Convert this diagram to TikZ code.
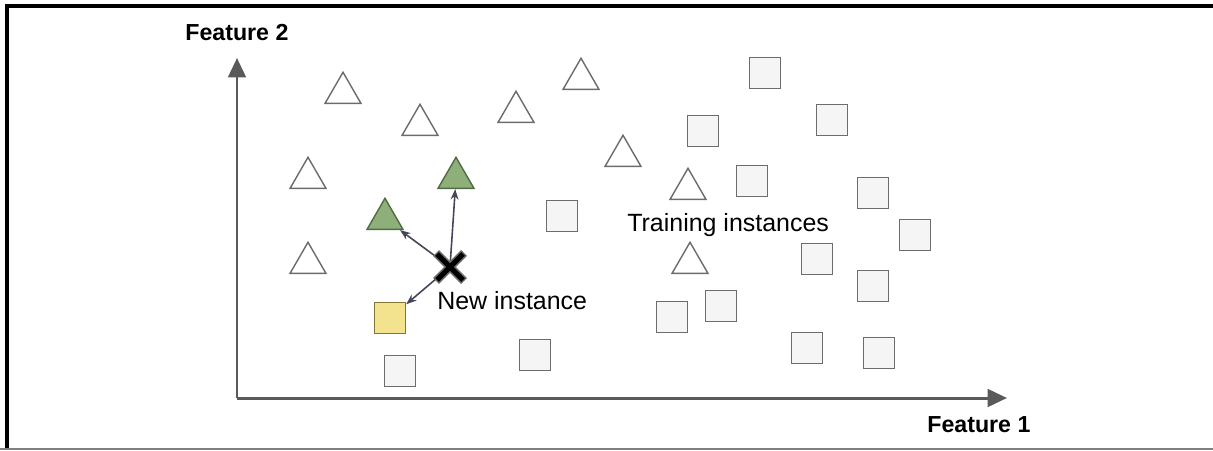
\documentclass[tikz,border=0pt]{standalone}
\usepackage{fontspec}
\setmainfont{Liberation Sans}
\usetikzlibrary{shapes.geometric,arrows.meta}

\definecolor{outlinegray}{HTML}{6C6C6C}
\definecolor{axisgray}{HTML}{5A5A5A}
\definecolor{boxfill}{HTML}{F5F5F5}
\definecolor{leafgreen}{HTML}{8FAF7A}
\definecolor{darkgreen}{HTML}{4F6C42}
\definecolor{paleyellow}{HTML}{F4E38E}
\definecolor{darkyellow}{HTML}{857535}
\definecolor{linkgray}{HTML}{45455A}

\begin{document}
\begin{tikzpicture}[
    x=0.02cm, y=-0.02cm,
    tri/.style={regular polygon, regular polygon sides=3, draw=outlinegray,
        line width=0.8pt, fill=white, minimum size=0.83cm, inner sep=0pt},
    greentri/.style={tri, draw=darkgreen, fill=leafgreen},
    sq/.style={rectangle, draw=outlinegray, line width=0.8pt, fill=boxfill,
        minimum size=0.62cm, inner sep=0pt},
    yellowsq/.style={sq, draw=darkyellow, fill=paleyellow},
    lbl/.style={font=\fontsize{14.2}{17}\selectfont, inner sep=0pt, anchor=base west},
    axlbl/.style={font=\fontsize{13.2}{16}\selectfont\bfseries, inner sep=0pt, anchor=base west},
    axis/.style={draw=axisgray, line width=1.7pt, -{Triangle[length=11pt,width=10pt]}},
    link/.style={draw=linkgray, line width=0.9pt, -{Stealth[length=6pt,width=4.5pt]}}
]
    \useasboundingbox (0,0) rectangle (1213,450);
    % frame
    \draw[line width=2.3pt] (5,6) -- (1213,6);
    \draw[line width=2.3pt] (7,4) -- (7,448);
    \draw[gray, line width=1.2pt] (0,449) -- (1213,449);

    % axes
    \coordinate (origin) at (237,398);
    \coordinate (ytip) at (237,58);
    \coordinate (xtip) at (1007,398);
    \draw[axis] (origin) -- (ytip);
    \draw[axis] (origin) -- (xtip);
    \node[axlbl] (ylabel) at (185,40) {Feature 2};
    \node[axlbl] (xlabel) at (927,432) {Feature 1};

    % triangles
    \node[tri] (t1) at (343,93) {};
    \node[tri] (t2) at (420,125) {};
    \node[tri] (t3) at (516,112) {};
    \node[tri] (t4) at (581,79) {};
    \node[tri] (t5) at (308,178) {};
    \node[tri] (t6) at (623,156) {};
    \node[tri] (t7) at (308,263) {};
    \node[tri] (t8) at (688,189) {};
    \node[tri] (t9) at (690,263) {};
    \node[greentri] (g1) at (385,219) {};
    \node[greentri] (g2) at (456,178) {};

    % squares
    \node[sq] (s1) at (765,73) {};
    \node[sq] (s2) at (832,120) {};
    \node[sq] (s3) at (703,131) {};
    \node[sq] (s4) at (752,181) {};
    \node[sq] (s5) at (873,193) {};
    \node[sq] (s6) at (915,235) {};
    \node[sq] (s7) at (562,216) {};
    \node[sq] (s8) at (817,259) {};
    \node[sq] (s9) at (873,286) {};
    \node[sq] (s10) at (721,306) {};
    \node[sq] (s11) at (672,317) {};
    \node[sq] (s12) at (535,355) {};
    \node[sq] (s13) at (807,348) {};
    \node[sq] (s14) at (879,353) {};
    \node[sq] (s15) at (400,371) {};
    \node[yellowsq] (y1) at (390,318) {};

    \node[lbl] (trainlbl) at (627,231) {Training instances};

    % new instance and its nearest neighbours
    \coordinate (newpt) at (450,267);
    \draw[link] (newpt) -- (g1);
    \draw[link] (newpt) -- (g2);
    \draw[link] (newpt) -- (y1);
    \draw[outlinegray, line width=4.8pt] (newpt) +(-14,-14) -- +(14,14)
        (newpt) +(-14,14) -- +(14,-14);
    \draw[black, line width=3pt] (newpt) +(-13,-13) -- +(13,13)
        (newpt) +(-13,13) -- +(13,-13);
    \node[lbl] (newlbl) at (437,309) {New instance};
\end{tikzpicture}
\end{document}
